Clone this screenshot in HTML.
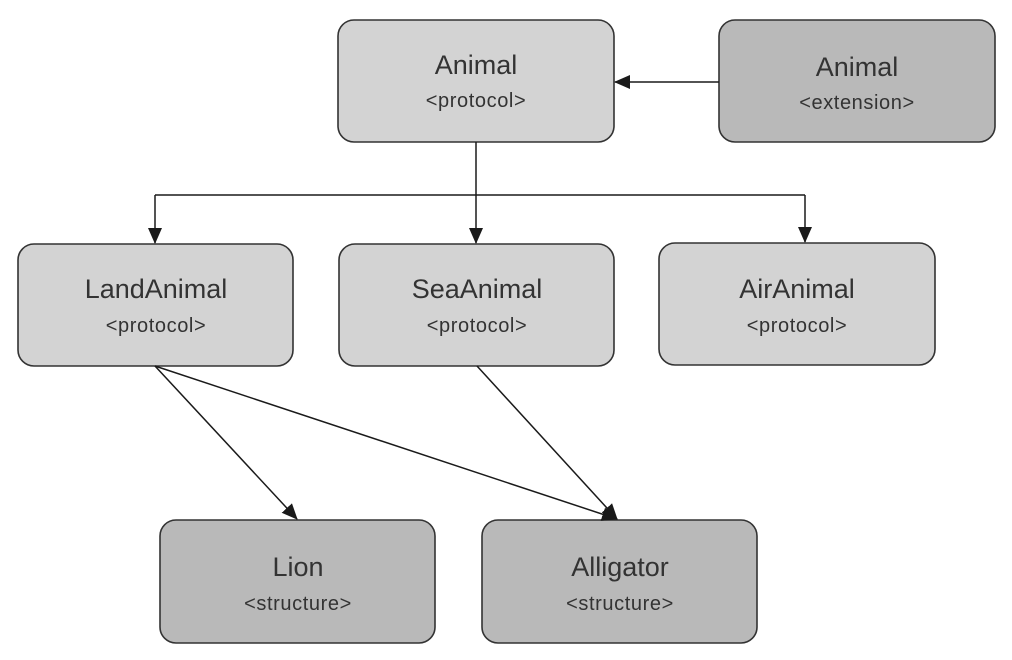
<!DOCTYPE html>
<html><head><meta charset="utf-8"><style>
html,body{margin:0;padding:0;background:#fff;}
svg{display:block;}
text{font-family:"Liberation Sans",sans-serif;fill:#333;text-anchor:middle;}
.t{font-size:27px;}
.s{font-size:20px;letter-spacing:0.6px;}
</style></head><body>
<svg width="1012" height="660" viewBox="0 0 1012 660">
<defs>
<marker id="a" markerWidth="16" markerHeight="16" refX="15" refY="8" orient="auto" markerUnits="userSpaceOnUse">
<path d="M0,1 L16,8 L0,15 z" fill="#1a1a1a"/>
</marker>
</defs>
<g stroke="#333" stroke-width="1.6">
<rect x="338" y="20" width="276" height="122" rx="16" fill="#d3d3d3"/>
<rect x="719" y="20" width="276" height="122" rx="16" fill="#b9b9b9"/>
<rect x="18" y="244" width="275" height="122" rx="16" fill="#d3d3d3"/>
<rect x="339" y="244" width="275" height="122" rx="16" fill="#d3d3d3"/>
<rect x="659" y="243" width="276" height="122" rx="16" fill="#d3d3d3"/>
<rect x="160" y="520" width="275" height="123" rx="16" fill="#b9b9b9"/>
<rect x="482" y="520" width="275" height="123" rx="16" fill="#b9b9b9"/>
</g>
<g stroke="#1a1a1a" stroke-width="1.5" fill="none">
<line x1="719" y1="82" x2="615" y2="82" marker-end="url(#a)"/>
<line x1="476" y1="142" x2="476" y2="243" marker-end="url(#a)"/>
<line x1="155" y1="195" x2="805" y2="195"/>
<line x1="155" y1="195" x2="155" y2="243" marker-end="url(#a)"/>
<line x1="805" y1="195" x2="805" y2="242" marker-end="url(#a)"/>
<line x1="155" y1="366" x2="297" y2="519" marker-end="url(#a)"/>
<line x1="155" y1="366" x2="617" y2="519" marker-end="url(#a)"/>
<line x1="477" y1="366" x2="617" y2="519" marker-end="url(#a)"/>
</g>
<text class="t" x="476" y="74">Animal</text>
<text class="s" x="476" y="107">&lt;protocol&gt;</text>
<text class="t" x="857" y="76">Animal</text>
<text class="s" x="857" y="109">&lt;extension&gt;</text>
<text class="t" x="156" y="298">LandAnimal</text>
<text class="s" x="156" y="332">&lt;protocol&gt;</text>
<text class="t" x="477" y="298">SeaAnimal</text>
<text class="s" x="477" y="332">&lt;protocol&gt;</text>
<text class="t" x="797" y="298">AirAnimal</text>
<text class="s" x="797" y="332">&lt;protocol&gt;</text>
<text class="t" x="298" y="576">Lion</text>
<text class="s" x="298" y="610">&lt;structure&gt;</text>
<text class="t" x="620" y="576">Alligator</text>
<text class="s" x="620" y="610">&lt;structure&gt;</text>
</svg>
</body></html>
